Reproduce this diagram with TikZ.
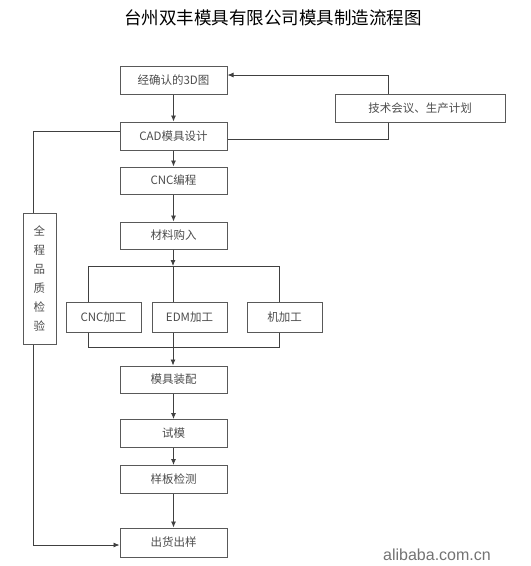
\documentclass[tikz,border=0pt]{standalone}
\usepackage{fontspec}
\setmainfont{Noto Sans CJK SC}
\newfontfamily\latinsans{Liberation Sans}
\usetikzlibrary{arrows.meta}

\tikzset{
  stepbox/.style={draw=black!65, line width=1pt, minimum width=107pt, minimum height=28pt,
    inner sep=0pt, text=black!70, font=\fontsize{11.5}{14}\selectfont},
  workbox/.style={stepbox, minimum width=75pt, minimum height=30pt},
  flow/.style={draw=black!75, line width=0.8pt},
  arr/.style={flow, -{Latex[length=6pt,width=5pt]}},
}

\begin{document}
\begin{tikzpicture}[x=1pt,y=-1pt]
\useasboundingbox (0,0) rectangle (531,566);

% title
\node (title) at (273,18) {\fontsize{17.5}{19}\selectfont 台州双丰模具有限公司模具制造流程图};

% main column
\node[stepbox] (model) at (173.5,80) {经确认的3D图};
\node[stepbox] (cad) at (173.5,136) {CAD模具设计};
\node[stepbox, minimum height=27pt] (prog) at (173.5,180.5) {CNC编程};
\node[stepbox, minimum height=27pt] (buy) at (173.5,235.5) {材料购入};

% machining
\node[workbox] (cnc) at (103.5,317) {CNC加工};
\node[workbox] (edm) at (189.5,317) {EDM加工};
\node[workbox] (mach) at (284.5,317) {机加工};

\node[stepbox, minimum height=27pt] (assy) at (173.5,379.5) {模具装配};
\node[stepbox] (trial) at (173.5,433.5) {试模};
\node[stepbox] (check) at (173.5,479.5) {样板检测};
\node[stepbox, minimum height=29pt] (ship) at (173.5,542.5) {出货出样};

% side boxes
\node[stepbox, minimum width=170pt] (meet) at (420,108) {技术会议、生产计划};
\node[stepbox, minimum width=33pt, minimum height=131pt, align=center,
  font=\fontsize{11.5}{19}\selectfont] (qc) at (39.5,278.5) {全\\程\\品\\质\\检\\验};

% junctions
\coordinate (split) at (173,266);
\coordinate (splitL) at (88,266);
\coordinate (splitR) at (279,266);
\coordinate (joinL) at (88,347);
\coordinate (joinR) at (279,347);
\coordinate (join) at (173,347);
\coordinate (meetx) at (388,75);
\coordinate (loopL) at (33,131);
\coordinate (loopB) at (33,545);

% flow
\draw[arr] (model) -- (cad);
\draw[arr] (cad) -- (prog);
\draw[arr] (prog) -- (buy);
\draw[arr] (buy.south -| split) -- (split);
\draw[flow] (splitL) -- (splitR);
\draw[flow] (splitL) -- (cnc.north -| splitL);
\draw[flow] (split) -- (edm.north -| split);
\draw[flow] (splitR) -- (mach.north -| splitR);
\draw[flow] (cnc.south -| joinL) -- (joinL) -- (joinR) -- (mach.south -| joinR);
\draw[flow] (edm.south -| join) -- (join);
\draw[arr] (join) -- (assy.north -| join);
\draw[arr] (assy) -- (trial);
\draw[arr] (trial) -- (check);
\draw[arr] (check) -- (ship);

% feedback
\draw[arr] (meet.north -| meetx) -- (meetx) -- (model.east |- meetx);
\draw[flow] (meet.south -| meetx) |- (cad.east |- 0,139);
\draw[flow] (cad.west |- loopL) -- (loopL) -- (qc.north -| loopL);
\draw[arr] (qc.south -| loopL) -- (loopB) -- (ship.west |- loopB);

% mark
\node[text=black!55, font=\latinsans\fontsize{16}{17}\selectfont] (mark) at (437,555) {alibaba.com.cn};
\end{tikzpicture}
\end{document}
